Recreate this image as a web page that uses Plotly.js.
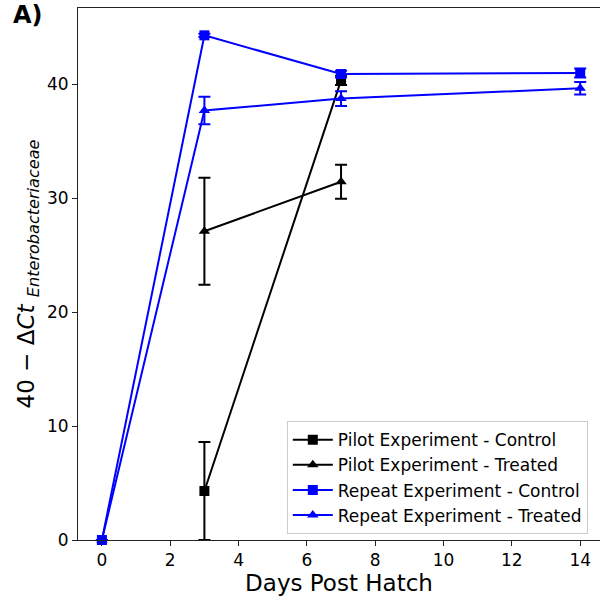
<!DOCTYPE html>
<html>
<head>
<meta charset="utf-8">
<script src="https://cdn.plot.ly/plotly-3.0.1.min.js"></script>
<style>html,body{margin:0;padding:0;background:#fff}#chart{width:600px;height:604px}</style>
</head>
<body>
<div id="chart"></div>
<script>
// Data
const seriesNames = ["Pilot Experiment - Control", "Pilot Experiment - Treated", "Repeat Experiment - Control", "Repeat Experiment - Treated"];
const pilotDays = [3, 7];
const pilotControl = [4.3, 40.35];
const pilotControlErr = [4.3, 0.4];
const pilotTreated = [27.1, 31.45];
const pilotTreatedErr = [4.7, 1.5];
const repeatDays = [0, 3, 7, 14];
const repeatControl = [0, 44.3, 40.9, 41.0];
const repeatControlErr = [0, 0.15, 0.3, 0.4];
const repeatTreated = [0, 37.7, 38.75, 39.65];
const repeatTreatedErr = [0, 1.2, 0.65, 0.55];
const xTicks = [0, 2, 4, 6, 8, 10, 12, 14];
const yTicks = [0, 10, 20, 30, 40];

function trace(name, x, y, err, color, symbol) {
  return {
    type: 'scatter', mode: 'lines+markers', name: name, x: x, y: y,
    line: {color: color, width: 2},
    marker: {color: color, symbol: symbol, size: 10},
    error_y: {type: 'data', array: err, visible: true, color: color, thickness: 2, width: 6},
    cliponaxis: false
  };
}

const data = [
  trace(seriesNames[0], pilotDays, pilotControl, pilotControlErr, '#000000', 'square'),
  trace(seriesNames[1], pilotDays, pilotTreated, pilotTreatedErr, '#000000', 'triangle-up'),
  trace(seriesNames[2], repeatDays, repeatControl, repeatControlErr, '#0000ff', 'square'),
  trace(seriesNames[3], repeatDays, repeatTreated, repeatTreatedErr, '#0000ff', 'triangle-up')
];

const layout = {
  width: 600, height: 604,
  margin: {l: 78, r: 0, t: 8, b: 64},
  paper_bgcolor: '#fff', plot_bgcolor: '#fff',
  font: {family: 'DejaVu Sans', color: '#000'},
  showlegend: true,
  legend: {
    x: 0.4, y: 0.011, xanchor: 'left', yanchor: 'bottom',
    bgcolor: 'rgba(255,255,255,0.8)', bordercolor: '#cccccc', borderwidth: 1,
    font: {size: 17, family: 'DejaVu Sans', color: '#000'},
    itemwidth: 40,
    tracegroupgap: 0
  },
  xaxis: {
    range: [-0.7, 14.58], tickvals: xTicks, ticktext: xTicks.map(String),
    ticks: 'outside', ticklen: 5, tickwidth: 1, tickcolor: '#222',
    showline: true, linecolor: '#222', linewidth: 1, mirror: true,
    showgrid: false, zeroline: false,
    tickfont: {size: 17},
    title: {text: 'Days Post Hatch', font: {size: 23}, standoff: 4}
  },
  yaxis: {
    range: [0, 46.7], tickvals: yTicks, ticktext: yTicks.map(String),
    ticks: 'outside', ticklen: 5, tickwidth: 1, tickcolor: '#222',
    showline: true, linecolor: '#222', linewidth: 1, mirror: false,
    showgrid: false, zeroline: false,
    tickfont: {size: 17},
    title: {text: '40 − Δ<i>Ct</i> <sub><i>Enterobacteriaceae</i></sub>', font: {size: 23}, standoff: 5}
  },
  annotations: [{
    text: '<b>A)</b>', xref: 'paper', yref: 'paper', x: -0.128, y: 1.017,
    xanchor: 'left', yanchor: 'top', showarrow: false,
    font: {size: 24, family: 'DejaVu Sans'}
  }]
};

Plotly.newPlot('chart', data, layout, {displayModeBar: false, staticPlot: true});
</script>
</body>
</html>
